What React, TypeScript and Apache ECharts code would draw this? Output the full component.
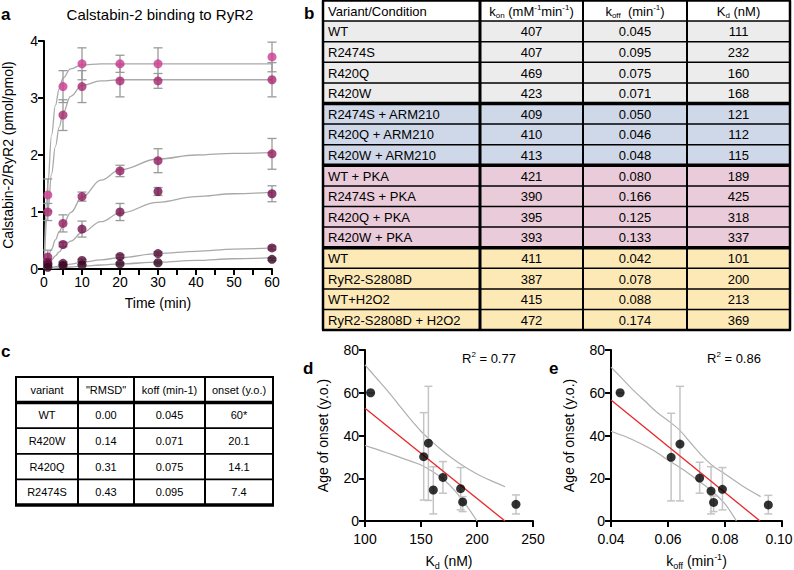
import React, { useEffect, useRef } from 'react';
import * as echarts from 'echarts';

const FONT = '"Liberation Sans", Arial, Helvetica, sans-serif';

// ---------- Panel a: binding time course ----------
const timeMin = [1, 5, 10, 20, 30, 60];
const boundS1 = [1.3, 3.2, 3.6, 3.6, 3.6, 3.72];
const errS1 = [0.28, 0.28, 0.28, 0.15, 0.28, 0.26];
const boundS2 = [1.0, 2.7, 3.2, 3.3, 3.3, 3.32];
const errS2 = [0.15, 0.27, 0.28, 0.28, 0.13, 0.3];
const boundS3 = [0.21, 0.8, 1.27, 1.72, 1.9, 2.02];
const errS3 = [0.12, 0.15, 0.08, 0.1, 0.21, 0.27];
const boundS4 = [0.12, 0.43, 0.7, 1.0, 1.36, 1.32];
const errS4 = [0.05, 0.04, 0.14, 0.15, 0.07, 0.14];
const boundS5 = [0.08, 0.1, 0.15, 0.22, 0.27, 0.37];
const errS5 = [0.02, 0.02, 0.02, 0.03, 0.03, 0.03];
const boundS6 = [0.03, 0.06, 0.07, 0.09, 0.11, 0.17];
const errS6 = [0.01, 0.01, 0.01, 0.02, 0.02, 0.02];
const pointColors = ['#cc3a90', '#a8286f', '#921c60', '#73104a', '#560b36', '#360620'];

const fitTime = [0, 1, 2, 3, 4, 5, 7, 10, 15, 20, 30, 40, 50, 60];
const fitC1 = [0, 1.48, 2.35, 2.87, 3.16, 3.35, 3.51, 3.58, 3.6, 3.6, 3.6, 3.6, 3.6, 3.6];
const fitC2 = [0, 0.98, 1.67, 2.15, 2.49, 2.74, 3.03, 3.22, 3.3, 3.32, 3.32, 3.32, 3.32, 3.32];
const fitC3 = [0, 0.19, 0.35, 0.51, 0.65, 0.77, 0.99, 1.26, 1.56, 1.74, 1.93, 2.0, 2.03, 2.04];
const fitC4 = [0, 0.08, 0.16, 0.23, 0.3, 0.37, 0.49, 0.64, 0.83, 0.98, 1.17, 1.27, 1.32, 1.35];
const fitC5 = [0, 0.013, 0.026, 0.04, 0.05, 0.06, 0.085, 0.12, 0.16, 0.2, 0.27, 0.31, 0.35, 0.37];
const fitC6 = [0, 0.005, 0.01, 0.015, 0.02, 0.025, 0.035, 0.05, 0.07, 0.09, 0.12, 0.15, 0.18, 0.2];

// ---------- Panel b: kinetics table ----------
const variantNames = ['WT', 'R2474S', 'R420Q', 'R420W', 'R2474S + ARM210', 'R420Q + ARM210', 'R420W + ARM210', 'WT + PKA', 'R2474S + PKA', 'R420Q + PKA', 'R420W + PKA', 'WT', 'RyR2-S2808D', 'WT+H2O2', 'RyR2-S2808D + H2O2'];
const konValues = ['407', '407', '469', '423', '409', '410', '413', '421', '390', '395', '393', '411', '387', '415', '472'];
const koffValues = ['0.045', '0.095', '0.075', '0.071', '0.050', '0.046', '0.048', '0.080', '0.166', '0.125', '0.133', '0.042', '0.078', '0.088', '0.174'];
const kdValues = ['111', '232', '160', '168', '121', '112', '115', '189', '425', '318', '337', '101', '200', '213', '369'];
const rowGroups = [0, 0, 0, 0, 1, 1, 1, 2, 2, 2, 2, 3, 3, 3, 3];
const groupColors = ['#ececec', '#cfd8e8', '#eacbd9', '#fde9b6'];

// ---------- Panel c: summary table ----------
const headC = ['variant', '"RMSD"', 'koff (min-1)', 'onset (y.o.)'];
const variantC = ['WT', 'R420W', 'R420Q', 'R2474S'];
const rmsdC = ['0.00', '0.14', '0.31', '0.43'];
const koffC = ['0.045', '0.071', '0.075', '0.095'];
const onsetC = ['60*', '20.1', '14.1', '7.4'];

// ---------- Panel d / e: onset correlations ----------
const kdPoints = [105, 156.6, 152.4, 161, 169.6, 185.4, 187.2, 234.8];
const onsetD = [60, 36.4, 30.1, 14.5, 20.4, 15.1, 8.9, 7.8];
const errLoD = [60, 9.6, 9.8, 3.3, 13, 5.2, 4.4, 3.3];
const errHiD = [60, 63, 50.7, 25.4, 27.8, 25, 11.4, 12.2];
const regD = [[100, 52.7], [225, 0]];
const bandHiD = [[100, 73], [110, 67], [120, 61], [130, 54.5], [140, 48], [150, 42], [160, 37], [170, 32.5], [180, 28.5], [190, 25], [200, 22], [212, 19], [225, 16]];
const bandLoD = [[100, 35.3], [110, 33.6], [120, 31.8], [130, 30], [140, 28.1], [150, 26.2], [160, 23.3], [170, 19.5], [180, 14.3], [190, 7.7], [200, 0]];

const koffPoints = [0.0432, 0.0642, 0.0611, 0.0711, 0.0751, 0.0791, 0.076, 0.0952];
const onsetE = [60, 36, 29.8, 20.1, 14, 14.8, 8.7, 7.5];
const errLoE = [60, 9.4, 9.4, 13, 3.3, 5.2, 4.4, 3.3];
const errHiE = [60, 63, 50.4, 27.5, 25.4, 25, 11.7, 12];
const regE = [[0.04, 56.6], [0.0923, 0]];
const bandHiE = [[0.04, 72], [0.044, 66.5], [0.048, 61], [0.052, 56], [0.056, 51], [0.06, 47], [0.064, 42.6], [0.068, 36.5], [0.072, 30.5], [0.076, 25.5], [0.08, 22], [0.086, 16.5], [0.0925, 11.4]];
const bandLoE = [[0.04, 42], [0.045, 39.5], [0.05, 36.5], [0.055, 33], [0.06, 28.5], [0.065, 24.3], [0.07, 19.5], [0.075, 14.5], [0.08, 8], [0.084, 0]];

function errorBars(axisIdx: number, data: number[][], color: string, cap: number, width: number) {
  return {
    type: 'custom',
    xAxisIndex: axisIdx,
    yAxisIndex: axisIdx,
    silent: true,
    z: 2,
    encode: { x: 0, y: [1, 2] },
    data,
    renderItem: (_p: any, api: any) => {
      const x = api.value(0);
      const a = api.coord([x, api.value(1)]);
      const b = api.coord([x, api.value(2)]);
      const st = { stroke: color, lineWidth: width, fill: 'none' };
      return {
        type: 'group',
        children: [
          { type: 'line', shape: { x1: a[0], y1: a[1], x2: b[0], y2: b[1] }, style: st },
          { type: 'line', shape: { x1: a[0] - cap, y1: a[1], x2: a[0] + cap, y2: a[1] }, style: st },
          { type: 'line', shape: { x1: b[0] - cap, y1: b[1], x2: b[0] + cap, y2: b[1] }, style: st },
        ],
      };
    },
  };
}

const axisBase = {
  axisLine: { onZero: false, lineStyle: { color: '#000', width: 2 } },
  axisTick: { length: 6, lineStyle: { color: '#000', width: 2 } },
  axisLabel: { color: '#000', fontSize: 14, fontFamily: FONT, margin: 6 },
  splitLine: { show: false },
  nameTextStyle: { color: '#000', fontSize: 14, fontFamily: FONT },
};

function txt(text: string, x: number, y: number, size: number, align = 'left', extra: any = {}) {
  return {
    type: 'text',
    x,
    y,
    silent: true,
    style: {
      text,
      fontSize: size,
      fontFamily: FONT,
      fill: '#000',
      align,
      textAlign: align,
      verticalAlign: 'middle',
      textVerticalAlign: 'middle',
      ...extra,
    },
  };
}
function hline(x1: number, x2: number, y: number, w: number) {
  return { type: 'line', silent: true, shape: { x1, y1: y, x2, y2: y }, style: { stroke: '#000', lineWidth: w } };
}
function vline(x: number, y1: number, y2: number, w: number) {
  return { type: 'line', silent: true, shape: { x1: x, y1, x2: x, y2 }, style: { stroke: '#000', lineWidth: w } };
}

function buildGraphics() {
  const g: any[] = [];
  const bold = { fontWeight: 'bold' };
  g.push(txt('a', 1, 14, 17, 'left', bold));
  g.push(txt('b', 304, 13, 17, 'left', bold));
  g.push(txt('c', 1, 351, 17, 'left', bold));
  g.push(txt('d', 303, 368, 17, 'left', bold));
  g.push(txt('e', 549, 368, 17, 'left', bold));
  g.push(txt('Calstabin-2 binding to RyR2', 160, 14, 15, 'center'));

  // table b
  const cols = [323, 480, 583, 687, 790];
  const top = 0.5;
  const rh = 20.6;
  const nRows = variantNames.length + 1;
  const bottom = top + nRows * rh;
  g.push({ type: 'rect', silent: true, shape: { x: cols[0], y: top, width: cols[4] - cols[0], height: rh }, style: { fill: '#fff' } });
  variantNames.forEach((_, i) => {
    g.push({ type: 'rect', silent: true, shape: { x: cols[0], y: top + (i + 1) * rh, width: cols[4] - cols[0], height: rh }, style: { fill: groupColors[rowGroups[i]] } });
  });
  for (let r = 0; r <= nRows; r++) {
    let w = 1.5;
    if (r === 0 || r === nRows) w = 2.5;
    else if (r > 1 && rowGroups[r - 1] !== rowGroups[r - 2]) w = 3.5;
    g.push(hline(cols[0] - 1, cols[4] + 1, top + r * rh, w));
  }
  cols.forEach((c, i) => g.push(vline(c, top, bottom, i === 1 ? 3 : i === 0 || i === 4 ? 2.5 : 2)));
  const hy = top + rh / 2 + 0.5;
  const rich = {
    t: { fontSize: 13, fontFamily: FONT, fill: '#000', lineHeight: 16 },
    sub: { fontSize: 8, fontFamily: FONT, fill: '#000', lineHeight: 16, verticalAlign: 'bottom' },
    sup: { fontSize: 8, fontFamily: FONT, fill: '#000', lineHeight: 16, verticalAlign: 'top' },
  };
  g.push(txt('Variant/Condition', 328, hy, 13));
  g.push(txt('{t|k}{sub|on}{t| (mM}{sup|-1}{t|min}{sup|-1}{t|)}', (cols[1] + cols[2]) / 2, hy, 13, 'center', { rich }));
  g.push(txt('{t|k}{sub|off}{t|  (min}{sup|-1}{t|)}', (cols[2] + cols[3]) / 2, hy, 13, 'center', { rich }));
  g.push(txt('{t|K}{sub|d}{t| (nM)}', (cols[3] + cols[4]) / 2, hy, 13, 'center', { rich }));
  variantNames.forEach((name, i) => {
    const y = top + (i + 1.5) * rh + 0.5;
    g.push(txt(name, 328, y, 13));
    g.push(txt(konValues[i], (cols[1] + cols[2]) / 2, y, 13, 'center'));
    g.push(txt(koffValues[i], (cols[2] + cols[3]) / 2, y, 13, 'center'));
    g.push(txt(kdValues[i], (cols[3] + cols[4]) / 2, y, 13, 'center'));
  });

  // table c
  const cc = [16, 78, 134, 205, 273];
  const ct = 377;
  const crh = 25.6;
  const cb = ct + 5 * crh;
  g.push({ type: 'rect', silent: true, shape: { x: cc[0], y: ct, width: cc[4] - cc[0], height: cb - ct }, style: { fill: '#fff' } });
  for (let r = 0; r <= 5; r++) {
    const w = r === 1 || r === 5 ? 3.5 : r === 0 ? 2 : 1.8;
    g.push(hline(cc[0] - 1, cc[4] + 1, ct + r * crh, w));
  }
  cc.forEach((c) => g.push(vline(c, ct, cb, 2)));
  headC.forEach((h, j) => g.push(txt(h, (cc[j] + cc[j + 1]) / 2, ct + crh / 2, 11, 'center')));
  const colsData = [variantC, rmsdC, koffC, onsetC];
  variantC.forEach((_, i) => {
    colsData.forEach((arr, j) => {
      g.push(txt(arr[i], (cc[j] + cc[j + 1]) / 2, ct + (i + 1.5) * crh, 11, 'center'));
    });
  });

  // R squared
  const r2rich = {
    t: { fontSize: 13, fontFamily: FONT, fill: '#000', lineHeight: 16 },
    sup: { fontSize: 8, fontFamily: FONT, fill: '#000', lineHeight: 16, verticalAlign: 'top' },
  };
  g.push(txt('{t|R}{sup|2}{t| = 0.77}', 462, 358, 13, 'left', { rich: r2rich }));
  g.push(txt('{t|R}{sup|2}{t| = 0.86}', 707, 358, 13, 'left', { rich: r2rich }));
  return g;
}

function buildOption() {
  const seriesA = [boundS1, boundS2, boundS3, boundS4, boundS5, boundS6];
  const errsA = [errS1, errS2, errS3, errS4, errS5, errS6];
  const fits = [fitC1, fitC2, fitC3, fitC4, fitC5, fitC6];
  const series: any[] = [];
  fits.forEach((f) => {
    series.push({
      type: 'line', xAxisIndex: 0, yAxisIndex: 0, smooth: 0.4, smoothMonotone: 'x', showSymbol: false, silent: true, z: 1,
      lineStyle: { color: '#a9a9a9', width: 1.3 },
      data: fitTime.map((t, i) => [t, f[i]]),
    });
  });
  seriesA.forEach((s, k) => {
    series.push(errorBars(0, timeMin.map((t, i) => [t, s[i] - errsA[k][i], s[i] + errsA[k][i]]), '#9a9a9a', 4.5, 1.3));
  });
  seriesA.forEach((s, k) => {
    series.push({
      type: 'scatter', xAxisIndex: 0, yAxisIndex: 0, symbolSize: 9, z: 3, silent: true,
      itemStyle: { color: pointColors[k] },
      data: timeMin.map((t, i) => [t, s[i]]),
    });
  });

  const corr = (idx: number, xs: number[], ys: number[], lo: number[], hi: number[], reg: number[][], bh: number[][], bl: number[][]) => {
    series.push({ type: 'line', xAxisIndex: idx, yAxisIndex: idx, smooth: 0.3, showSymbol: false, silent: true, z: 1, lineStyle: { color: '#b0b0b0', width: 1.2 }, data: bh });
    series.push({ type: 'line', xAxisIndex: idx, yAxisIndex: idx, smooth: 0.3, showSymbol: false, silent: true, z: 1, lineStyle: { color: '#b0b0b0', width: 1.2 }, data: bl });
    series.push(errorBars(idx, xs.map((x, i) => [x, lo[i], hi[i]]), '#c4c4c4', 4, 1.5));
    series.push({ type: 'line', xAxisIndex: idx, yAxisIndex: idx, showSymbol: false, silent: true, z: 2, lineStyle: { color: '#e8262a', width: 1.3 }, data: reg });
    series.push({ type: 'scatter', xAxisIndex: idx, yAxisIndex: idx, symbolSize: 9, z: 4, silent: true, itemStyle: { color: '#000' }, data: xs.map((x, i) => [x, ys[i]]) });
  };
  corr(1, kdPoints, onsetD, errLoD, errHiD, regD, bandHiD, bandLoD);
  corr(2, koffPoints, onsetE, errLoE, errHiE, regE, bandHiE, bandLoE);

  const nameRich = {
    t: { fontSize: 14, fontFamily: FONT, color: '#000', lineHeight: 18 },
    sub: { fontSize: 9, fontFamily: FONT, color: '#000', lineHeight: 18, verticalAlign: 'bottom' },
    sup: { fontSize: 9, fontFamily: FONT, color: '#000', lineHeight: 18, verticalAlign: 'top' },
  };
  const lowLabel = { ...axisBase.axisLabel, margin: 11 };

  return {
    animation: false,
    backgroundColor: '#fff',
    textStyle: { fontFamily: FONT },
    grid: [
      { left: 44, top: 41, width: 228, height: 228, outerBoundsMode: 'none' },
      { left: 365, top: 350, width: 168, height: 171, outerBoundsMode: 'none' },
      { left: 611, top: 350, width: 171, height: 171, outerBoundsMode: 'none' },
    ],
    xAxis: [
      {
        ...axisBase, type: 'value', gridIndex: 0, min: 0, max: 60, interval: 5,
        axisLabel: { ...axisBase.axisLabel, formatter: (v: number) => (v % 10 === 0 ? String(v) : '') },
        name: 'Time (min)', nameLocation: 'middle', nameGap: 27,
      },
      {
        ...axisBase, type: 'value', gridIndex: 1, min: 100, max: 250, interval: 50,
        axisLabel: lowLabel,
        name: '{t|K}{sub|d}{t| (nM)}', nameLocation: 'middle', nameGap: 31,
        nameTextStyle: { ...axisBase.nameTextStyle, rich: nameRich },
      },
      {
        ...axisBase, type: 'value', gridIndex: 2, min: 0.04, max: 0.1, interval: 0.02,
        axisLabel: {
          ...lowLabel,
          formatter: (v: number) => (v > 0.099 ? '{r|' + v.toFixed(2) + '}' : v.toFixed(2)),
          rich: { r: { fontSize: 14, fontFamily: FONT, color: '#000', padding: [0, 6, 0, 0] } },
        },
        name: '{t|k}{sub|off}{t| (min}{sup|-1}{t|)}', nameLocation: 'middle', nameGap: 31,
        nameTextStyle: { ...axisBase.nameTextStyle, rich: nameRich },
      },
    ],
    yAxis: [
      {
        ...axisBase, type: 'value', gridIndex: 0, min: 0, max: 4, interval: 1,
        name: 'Calstabin-2/RyR2 (pmol/pmol)', nameLocation: 'middle', nameGap: 29,
      },
      {
        ...axisBase, type: 'value', gridIndex: 1, min: 0, max: 80, interval: 20,
        name: 'Age of onset (y.o.)', nameLocation: 'middle', nameGap: 35,
      },
      {
        ...axisBase, type: 'value', gridIndex: 2, min: 0, max: 80, interval: 20,
        name: 'Age of onset (y.o.)', nameLocation: 'middle', nameGap: 35,
      },
    ],
    series,
    graphic: { elements: buildGraphics() },
  };
}

export default function App() {
  const ref = useRef<HTMLDivElement>(null);
  useEffect(() => {
    if (!ref.current) return;
    const chart = echarts.init(ref.current, null, { renderer: 'svg' });
    chart.setOption(buildOption() as any);
    return () => chart.dispose();
  }, []);
  return (
    <div
      ref={ref}
      style={{ position: 'absolute', left: 0, top: 0, width: 794, height: 570, background: '#fff' }}
    />
  );
}
